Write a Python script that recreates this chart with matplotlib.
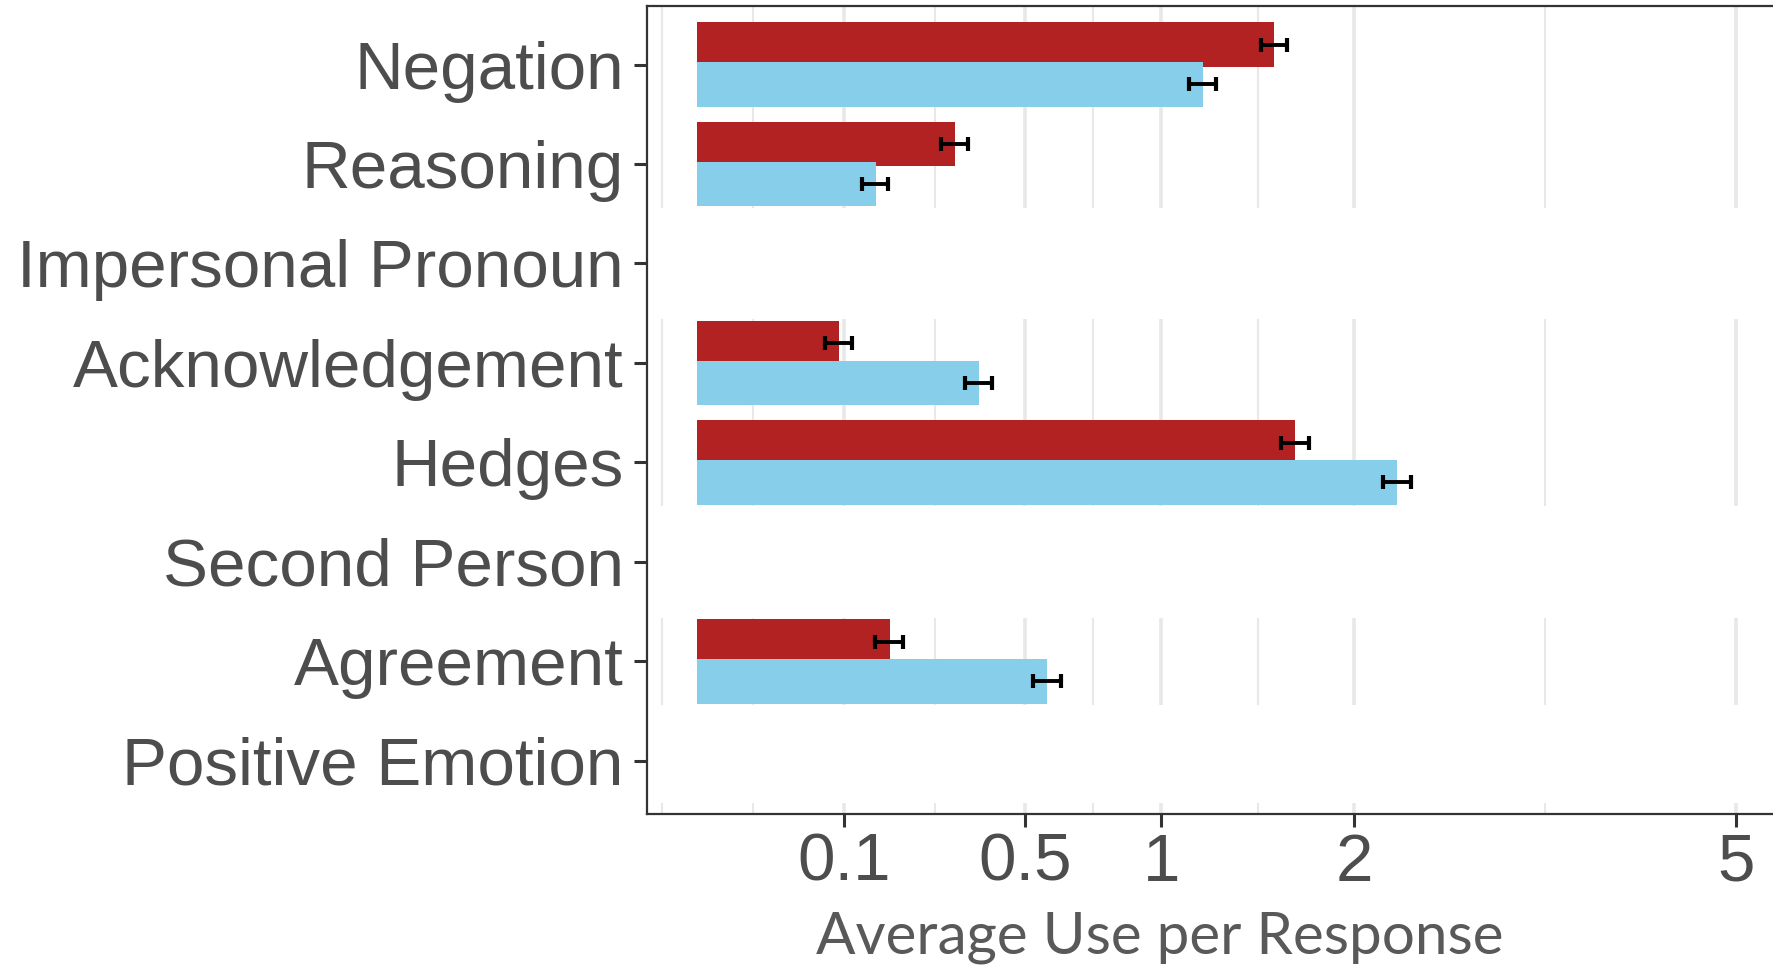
import numpy as np
import matplotlib.pyplot as plt

# categories, top to bottom
categories = ["Negation", "Reasoning", "Impersonal Pronoun", "Acknowledgement",
              "Hedges", "Second Person", "Agreement", "Positive Emotion"]

# average use per response (nan = not shown) and error half-widths
group1_mean = [1.545, 0.308, np.nan, 0.094, 1.657, np.nan, 0.172, np.nan]
group1_err = [0.070, 0.032, np.nan, 0.018, 0.077, np.nan, 0.025, np.nan]
group2_mean = [1.186, 0.148, np.nan, 0.368, 2.272, np.nan, 0.569, np.nan]
group2_err = [0.063, 0.022, np.nan, 0.036, 0.090, np.nan, 0.045, np.nan]

x_breaks = [0.1, 0.5, 1, 2, 5]
x_labels = ["0.1", "0.5", "1", "2", "5"]

RED = "#B22222"
BLUE = "#87CEEB"
TEXT = "#4D4D4D"
GRID = "#E8E8E8"


def fwd(x):
    x = np.asarray(x, dtype=float)
    return np.sign(x) * np.sqrt(np.abs(x))


def inv(y):
    y = np.asarray(y, dtype=float)
    return np.sign(y) * y ** 2


plt.rcParams['font.family'] = 'sans-serif'
plt.rcParams['font.sans-serif'] = ['Liberation Sans']

fig = plt.figure(figsize=(17.73, 9.65), dpi=100)
W, H = 1773, 965
left_px, top_px, bottom_px = 647, 6, 814
s_left, s_right = -0.1076, 2.40          # limits in sqrt space
px_per_unit = 464.5
right_px = left_px + (s_right - s_left) * px_per_unit
ax = fig.add_axes([left_px / W, 1 - bottom_px / H,
                   (right_px - left_px) / W, (bottom_px - top_px) / H])

ax.set_xscale('function', functions=(fwd, inv))
ax.set_xlim(inv(s_left), inv(s_right))
ax.set_ylim(7.533, -0.588)

y = np.arange(len(categories))
m1 = np.array(group1_mean)
m2 = np.array(group2_mean)
e1 = np.array(group1_err)
e2 = np.array(group2_err)
ok = ~np.isnan(m1)

# sqrt-scale grid: majors plus ggplot-style midpoint minors
s = np.sqrt(x_breaks)
ext = s[0] - (s[1] - s[0])
pts = np.concatenate([[ext], s])
minor_s = np.concatenate([[ext], (pts[:-1] + pts[1:]) / 2])
ax.set_xticks(x_breaks)
ax.set_xticklabels(x_labels)
ax.set_xticks(inv(minor_s), minor=True)
ax.set_axisbelow(True)
ax.grid(True, which='major', axis='x', color=GRID, lw=2.6, zorder=0)
ax.grid(True, which='minor', axis='x', color=GRID, lw=1.5, zorder=0)

# blank out the grid on rows without data
for yi in y[~ok]:
    ax.axhspan(yi - 0.56, min(yi + 0.56, 7.42), color='white', lw=0, zorder=1)

ax.barh(y[ok] - 0.2, m1[ok], height=0.45, color=RED, zorder=2)
ax.barh(y[ok] + 0.2, m2[ok], height=0.45, color=BLUE, zorder=3)
ax.errorbar(m1[ok], y[ok] - 0.2, xerr=e1[ok], fmt='none', ecolor='black',
            elinewidth=2.8, capsize=5.2, capthick=3.0, zorder=4)
ax.errorbar(m2[ok], y[ok] + 0.2, xerr=e2[ok], fmt='none', ecolor='black',
            elinewidth=2.8, capsize=5.2, capthick=3.0, zorder=4)

ax.set_yticks(y)
ax.set_yticklabels(categories)

for sp in ax.spines.values():
    sp.set_color('#333333')
    sp.set_linewidth(1.6)
    sp.set_zorder(5)

ax.tick_params(axis='y', length=9.7, width=2.2, color='#333333',
               labelsize=48.5, labelcolor=TEXT, pad=7)
ax.tick_params(axis='x', which='major', length=9.5, width=2.2, color='#333333',
               labelsize=48.5, labelcolor=TEXT, pad=4)
ax.tick_params(axis='x', which='minor', length=0)

fig.text(1160 / W, 1 - 953 / H, "Average Use per Response", family=['Lato', 'DejaVu Sans'],
         fontsize=42, color='#595959', ha='center', va='baseline')

fig.savefig('out.png', dpi=100)
